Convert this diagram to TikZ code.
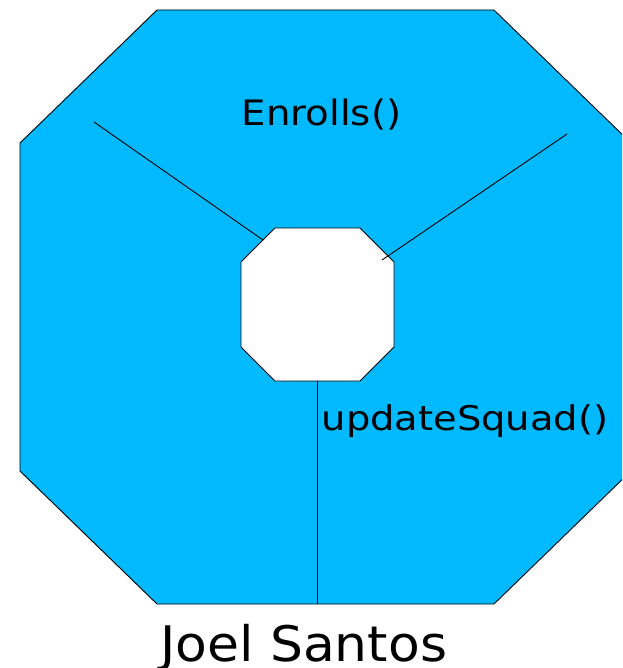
\documentclass[tikz,border=0pt]{standalone}
\usepackage{fontspec}
\setmainfont{DejaVu Sans}
\definecolor{skyfill}{RGB}{0,185,255}
\tikzset{
  frame/.style={draw=black, line width=0.9pt, line join=miter},
  spoke/.style={draw=black, line width=0.9pt},
  label/.style={inner sep=0pt, anchor=base west, text=black},
}
\begin{document}
\begin{tikzpicture}[x=1pt, y=-1pt]
  \useasboundingbox (0,0) rectangle (622,668);
  \begin{scope}
    \clip (0,0) rectangle (622,668);
    % outer octagon
    \draw[frame, fill=skyfill] (157,10) -- (494,10) -- (631,143) -- (631,471)
      -- (494,604) -- (157,604) -- (20,471) -- (20,143) -- cycle;
  \end{scope}
  % inner octagon
  \draw[frame, fill=white] (275,228) -- (360,228) -- (394,262) -- (394,347)
    -- (360,381) -- (275,381) -- (241,347) -- (241,262) -- cycle;
  % spoke end points
  \coordinate (leftOuter) at (94,122);
  \coordinate (leftInner) at (263,240);
  \coordinate (rightOuter) at (567,134);
  \coordinate (rightInner) at (382,260);
  \coordinate (bottomInner) at (317,381);
  \coordinate (bottomOuter) at (317,604);
  \draw[spoke] (leftOuter) -- (leftInner);
  \draw[spoke] (rightOuter) -- (rightInner);
  \draw[spoke] (bottomInner) -- (bottomOuter);
  % labels
  \node[label] (enrolls) at (241.5,125.7) {\fontsize{35}{40}\selectfont\scalebox{1.105}[1]{Enrolls()}};
  \node[label] (update) at (321.5,430.7) {\fontsize{34}{40}\selectfont\scalebox{1.13}[1]{updateSquad()}};
  \node[label] (owner) at (160,661.5) {\fontsize{49}{56}\selectfont\scalebox{1.06}[1]{Joel Santos}};
\end{tikzpicture}
\end{document}
